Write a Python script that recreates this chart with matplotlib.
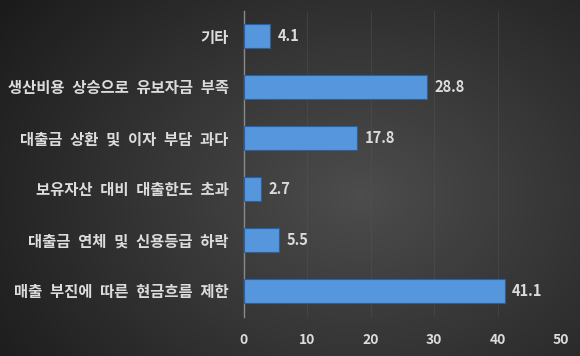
import numpy as np
import matplotlib
matplotlib.use("Agg")
import matplotlib.pyplot as plt

plt.rcParams['font.family'] = ['Noto Sans CJK KR', 'DejaVu Sans']

categories = ["기타", "생산비용 상승으로 유보자금 부족", "대출금 상환 및 이자 부담 과다",
              "보유자산 대비 대출한도 초과", "대출금 연체 및 신용등급 하락", "매출 부진에 따른 현금흐름 제한"]
values = [4.1, 28.8, 17.8, 2.7, 5.5, 41.1]
xticks = [0, 10, 20, 30, 40, 50]

fig = plt.figure(figsize=(5.8, 3.56), dpi=100)

# background gradient
bg = fig.add_axes([0, 0, 1, 1], zorder=0)
h, w = 356, 580
yy, xx = np.mgrid[0:h, 0:w]
cx, cy = 0.62 * w, 0.55 * h
d = np.sqrt(((xx - cx) / (0.75 * w)) ** 2 + ((yy - cy) / (0.9 * h)) ** 2)
g = np.clip(0.30 - 0.19 * d, 0.1, 0.31)
img = np.dstack([g, g, g])
bg.imshow(img, aspect='auto', extent=[0, 1, 0, 1])
bg.axis('off')

ax = fig.add_axes([244 / 580, 1 - 316.5 / 356, (561 - 244) / 580, 306 / 356], zorder=1)
ax.patch.set_alpha(0)
y = np.arange(len(categories))
bars = ax.barh(y, values, height=0.47, color='#5596dc', edgecolor='#2d5f9a', linewidth=0.8, zorder=3)
ax.set_ylim(len(categories) - 0.5, -0.5)
ax.set_xlim(0, 50)
ax.set_xticks(xticks)
ax.set_yticks(y)
ax.set_yticklabels([c.replace(" ", "\u2002") for c in categories],
                   color='#dcdcdc', fontsize=11.1, fontweight='bold')
ax.tick_params(axis='y', length=0, pad=11)
ax.tick_params(axis='x', length=0, pad=12, labelcolor='#dcdcdc', labelsize=10)
for lab in ax.get_xticklabels():
    lab.set_fontweight('bold')
for s in ['top', 'right', 'bottom']:
    ax.spines[s].set_visible(False)
ax.spines['left'].set_color('#8a8a8a')
ax.spines['left'].set_linewidth(1.0)
ax.grid(axis='x', color='#555555', linewidth=0.6, alpha=0.5, zorder=1)
for yi, v in zip(y, values):
    ax.text(v + 1.2, yi, f"{v}", va='center', ha='left', color='#dcdcdc', fontsize=10.5, fontweight='bold')

fig.savefig('out.png', dpi=100)
